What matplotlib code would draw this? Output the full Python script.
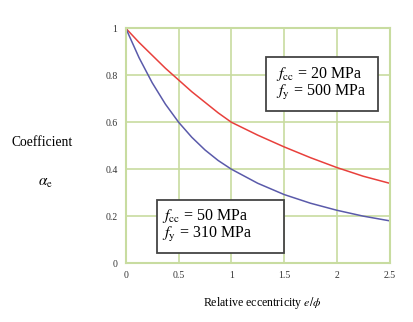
import matplotlib
matplotlib.use("Agg")
import matplotlib.pyplot as plt
from matplotlib.patches import Rectangle

plt.rcParams['font.family'] = ['Liberation Serif', 'DejaVu Serif']
plt.rcParams['mathtext.fontset'] = 'stix'

# relative eccentricity e/phi
ecc = [0, 0.125, 0.25, 0.375, 0.5, 0.625, 0.75, 0.875, 1.0,
       1.25, 1.5, 1.75, 2.0, 2.25, 2.5]
# fcc = 20 MPa, fy = 500 MPa
alpha_20 = [1.0, 0.94, 0.885, 0.83, 0.78, 0.73, 0.685, 0.64, 0.60,
            0.545, 0.495, 0.449, 0.407, 0.37, 0.34]
# fcc = 50 MPa, fy = 310 MPa
alpha_50 = [1.0, 0.875, 0.768, 0.677, 0.60, 0.536, 0.482, 0.437, 0.40,
            0.34, 0.292, 0.255, 0.225, 0.20, 0.18]

xticks = [0, 0.5, 1, 1.5, 2, 2.5]
xtick_labels = ['0', '0.5', '1', '1.5', '2', '2.5']
yticks = [0, 0.2, 0.4, 0.6, 0.8, 1]
ytick_labels = ['0', '0.2', '0.4', '0.6', '0.8', '1']

grid_col = '#c8dca0'

fig = plt.figure(figsize=(4.14, 3.22), dpi=100)
ax = fig.add_axes([0.304, 0.183, 0.637, 0.729])

ax.plot(ecc, alpha_20, color='#e8403c', lw=1.1)
ax.plot(ecc, alpha_50, color='#5a5aaa', lw=1.1)

ax.set_xlim(0, 2.5)
ax.set_ylim(0, 1)
ax.set_xticks(xticks)
ax.set_xticklabels(xtick_labels)
ax.set_yticks(yticks)
ax.set_yticklabels(ytick_labels)
ax.tick_params(length=0, labelsize=7, colors='#333333', pad=6)
ax.grid(True, color=grid_col, lw=1.2)
for s in ax.spines.values():
    s.set_color(grid_col)
    s.set_linewidth(1.5)

# label boxes for the two material cases
for x0, y0, w, h in [(1.328, 0.648, 1.062, 0.23), (0.294, 0.043, 1.206, 0.226)]:
    ax.add_patch(Rectangle((x0, y0), w, h, fc='white', ec='#444444',
                           lw=1.3, zorder=3))
ax.text(1.42, 0.765, "$f_{\\rm cc}$ = 20 MPa\n$f_{\\rm y}$ = 500 MPa",
        fontsize=11.5, va='center', ha='left', linespacing=1.0, zorder=4)
ax.text(0.345, 0.158, "$f_{\\rm cc}$ = 50 MPa\n$f_{\\rm y}$ = 310 MPa",
        fontsize=11.5, va='center', ha='left', linespacing=1.0, zorder=4)

fig.text(42 / 414, 1 - 142 / 322, "Coefficient", fontsize=9.8,
         ha='center', va='center')
fig.text(45 / 414, 1 - 183 / 322, r"$\alpha_{\rm e}$", fontsize=11,
         ha='center', va='center')
fig.text(262 / 414, 1 - 303 / 322, r"Relative eccentricity $e/\phi$",
         fontsize=8.6, ha='center', va='center')

fig.savefig('out.png', dpi=100)
